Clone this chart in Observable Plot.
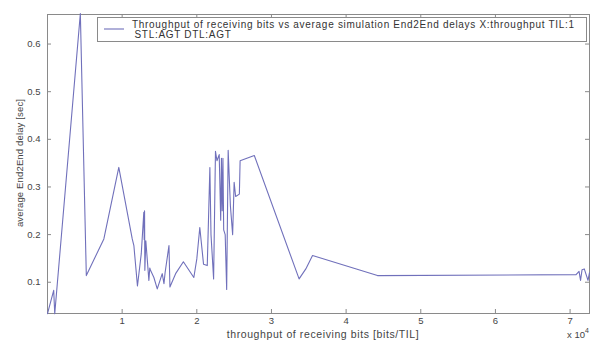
<!DOCTYPE html>
<html><head><meta charset="utf-8">
<script src="https://cdn.jsdelivr.net/npm/d3@7"></script>
<script src="https://cdn.jsdelivr.net/npm/@observablehq/plot@0.6"></script>
<style>body{margin:0;background:#fff}svg{display:block}</style>
</head><body><div id="chart"></div>
<script>
const throughput = [0.00,0.083,0.097,0.44,0.52,0.755,0.955,1.135,1.157,1.205,1.256,1.29,1.295,1.30,1.304,1.317,1.358,1.37,1.38,1.425,1.47,1.537,1.56,1.575,1.627,1.64,1.716,1.82,1.96,2.0,2.04,2.09,2.14,2.175,2.19,2.225,2.25,2.27,2.30,2.32,2.33,2.34,2.35,2.36,2.38,2.40,2.42,2.45,2.48,2.50,2.52,2.57,2.58,2.77,3.37,3.46,3.55,4.42,7.08,7.12,7.14,7.16,7.19,7.24,7.26];
const delay = [0.034,0.083,0.034,0.664,0.114,0.191,0.341,0.191,0.177,0.092,0.16,0.247,0.19,0.25,0.125,0.187,0.104,0.13,0.125,0.11,0.086,0.118,0.097,0.12,0.177,0.09,0.118,0.143,0.11,0.149,0.215,0.138,0.135,0.341,0.2,0.107,0.375,0.355,0.368,0.23,0.36,0.25,0.36,0.21,0.20,0.085,0.377,0.26,0.20,0.31,0.28,0.285,0.355,0.366,0.107,0.128,0.156,0.114,0.116,0.123,0.104,0.126,0.128,0.104,0.12];
const xTicks = [1,2,3,4,5,6,7];
const yTicks = [0.1,0.2,0.3,0.4,0.5,0.6];
const legendLines = ["Throughput of receiving bits vs average simulation End2End delays X:throughput TIL:1","STL:AGT DTL:AGT"];
const xLabel = "throughput of receiving bits [bits/TIL]";
const yLabel = "average End2End delay [sec]";
const xMultiplier = "x 10";
const xExponent = "4";

const data = throughput.map((x, i) => ({x, y: delay[i]}));
const font = "'Liberation Sans', Arial, sans-serif";
const axisColor = "#8a8a8a";
const lineColor = "#7070bb";

const plot = Plot.plot({
  width: 591, height: 340,
  marginLeft: 47, marginRight: 2, marginTop: 14, marginBottom: 27,
  style: {fontFamily: font, fontSize: "9.5px", color: "#444", background: "#fff"},
  x: {domain: [0, 7.26]},
  y: {domain: [0.0344, 0.662]},
  marks: [
    Plot.frame({stroke: axisColor}),
    Plot.tickX(xTicks, {x: d => d, insetTop: 295, stroke: axisColor}),
    Plot.tickX(xTicks, {x: d => d, insetBottom: 295, stroke: axisColor}),
    Plot.tickY(yTicks, {y: d => d, insetRight: 538, stroke: axisColor}),
    Plot.tickY(yTicks, {y: d => d, insetLeft: 538, stroke: axisColor}),
    Plot.axisX(xTicks, {anchor: "bottom", tickSize: 0, tickPadding: 4, label: null, fill: "#444"}),
    Plot.axisY(yTicks, {anchor: "left", tickSize: 0, tickPadding: 7, label: null, fill: "#444", tickFormat: d => d.toFixed(1)}),
    Plot.line(data, {x: "x", y: "y", stroke: lineColor, strokeWidth: 1.1})
  ]
});
document.getElementById("chart").append(plot);

const svg = d3.select(plot);
// axis labels
svg.append("text").attr("x", 323).attr("y", 338).attr("text-anchor", "middle")
  .attr("font-family", font).attr("font-size", 10.5).attr("letter-spacing", 0.6).attr("fill", "#444").text(xLabel);
svg.append("text").attr("transform", "translate(23,163) rotate(-90)").attr("text-anchor", "middle")
  .attr("font-family", font).attr("font-size", 9.5).attr("letter-spacing", 0.15).attr("fill", "#444").text(yLabel);
const mult = svg.append("text").attr("x", 567).attr("y", 338).attr("text-anchor", "start")
  .attr("font-family", font).attr("font-size", 9.5).attr("fill", "#444").text(xMultiplier);
mult.append("tspan").attr("dy", -5).attr("font-size", 7).text(xExponent);

// legend
const lg = svg.append("g").attr("text-anchor", "start");
lg.append("rect").attr("x", 97.5).attr("y", 17.5).attr("width", 489).attr("height", 24)
  .attr("fill", "#fff").attr("stroke", axisColor);
lg.append("line").attr("x1", 104).attr("x2", 124).attr("y1", 29).attr("y2", 29)
  .attr("stroke", lineColor).attr("stroke-width", 1.1);
lg.append("text").attr("x", 132).attr("y", 27.5).attr("text-anchor", "start").attr("font-family", font).attr("font-size", 10)
  .attr("letter-spacing", 0.7).attr("fill", "#333").text(legendLines[0]);
lg.append("text").attr("x", 134.5).attr("y", 38).attr("text-anchor", "start").attr("font-family", font).attr("font-size", 10)
  .attr("letter-spacing", 0.7).attr("fill", "#333").text(legendLines[1]);
</script></body></html>
